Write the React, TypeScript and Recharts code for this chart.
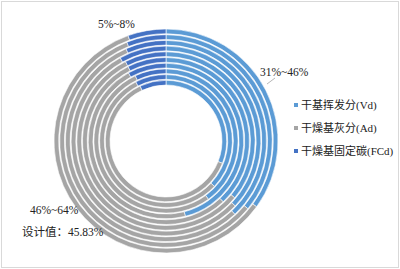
import { PieChart, Pie, Cell } from "recharts";

// samples, inner ring -> outer ring (%)
const vd = [31, 37, 40, 46, 38, 36, 37, 38, 36, 35];
const fcd = [7, 7.5, 7, 8, 7.5, 7.5, 8, 6.5, 6, 5.5];
const ad = vd.map((v, i) => +(100 - v - fcd[i]).toFixed(1));

const seriesNames = ["干基挥发分(Vd)", "干燥基灰分(Ad)", "干燥基固定碳(FCd)"];
const colors = ["#5B9BD5", "#A5A5A5", "#4472C4"];

const rangeLabels = ["5%~8%", "31%~46%", "46%~64%"];
const designLabel = "设计值：45.83%";

const rings = vd.map((v, i) => [
  { name: seriesNames[0], value: v },
  { name: seriesNames[1], value: ad[i] },
  { name: seriesNames[2], value: fcd[i] },
]);

const font = '"Liberation Serif", "Noto Sans CJK SC", serif';

export default function App() {
  const txt = (left: number, top: number, s: string) => (
    <div
      style={{
        position: "absolute",
        left,
        top,
        fontSize: 11.5,
        fontFamily: font,
        color: "#222",
        whiteSpace: "nowrap",
        lineHeight: "14px",
      }}
    >
      {s}
    </div>
  );

  return (
    <div
      style={{
        position: "absolute",
        left: 0,
        top: 0,
        width: 400,
        height: 269,
        background: "#fff",
      }}
    >
      <div
        style={{
          position: "absolute",
          left: 1,
          top: 1,
          width: 396,
          height: 265,
          border: "1px solid #d9d9d9",
        }}
      />
      <PieChart
        width={400}
        height={269}
        margin={{ top: 0, right: 0, bottom: 0, left: 0 }}
        style={{ position: "absolute", left: 0, top: 0 }}
      >
        {rings.map((data, i) => (
          <Pie
            key={i}
            data={data}
            dataKey="value"
            cx={166}
            cy={141}
            startAngle={90}
            endAngle={-270}
            innerRadius={56 + i * 5.7}
            outerRadius={56 + i * 5.7 + 4.7}
            stroke="#fff"
            strokeWidth={0.6}
            isAnimationActive={false}
          >
            {data.map((_, j) => (
              <Cell key={j} fill={colors[j]} />
            ))}
          </Pie>
        ))}
      </PieChart>
      <svg
        width={400}
        height={269}
        style={{ position: "absolute", left: 0, top: 0, pointerEvents: "none" }}
      >
        <line x1={267} y1={84} x2={275} y2={78} stroke="#A5A5A5" strokeWidth={0.8} />
      </svg>
      {txt(98, 17, rangeLabels[0])}
      {txt(260, 65, rangeLabels[1])}
      {txt(30, 203, rangeLabels[2])}
      {txt(22, 225, designLabel)}
      {seriesNames.map((n, i) => (
        <div
          key={n}
          style={{
            position: "absolute",
            left: 294,
            top: 97 + i * 23,
            fontSize: 11,
            fontFamily: font,
            color: "#222",
            whiteSpace: "nowrap",
            lineHeight: "16px",
            display: "flex",
            alignItems: "center",
          }}
        >
          <span
            style={{
              display: "inline-block",
              width: 4,
              height: 4,
              background: colors[i],
              marginRight: 3,
            }}
          />
          {n}
        </div>
      ))}
    </div>
  );
}
